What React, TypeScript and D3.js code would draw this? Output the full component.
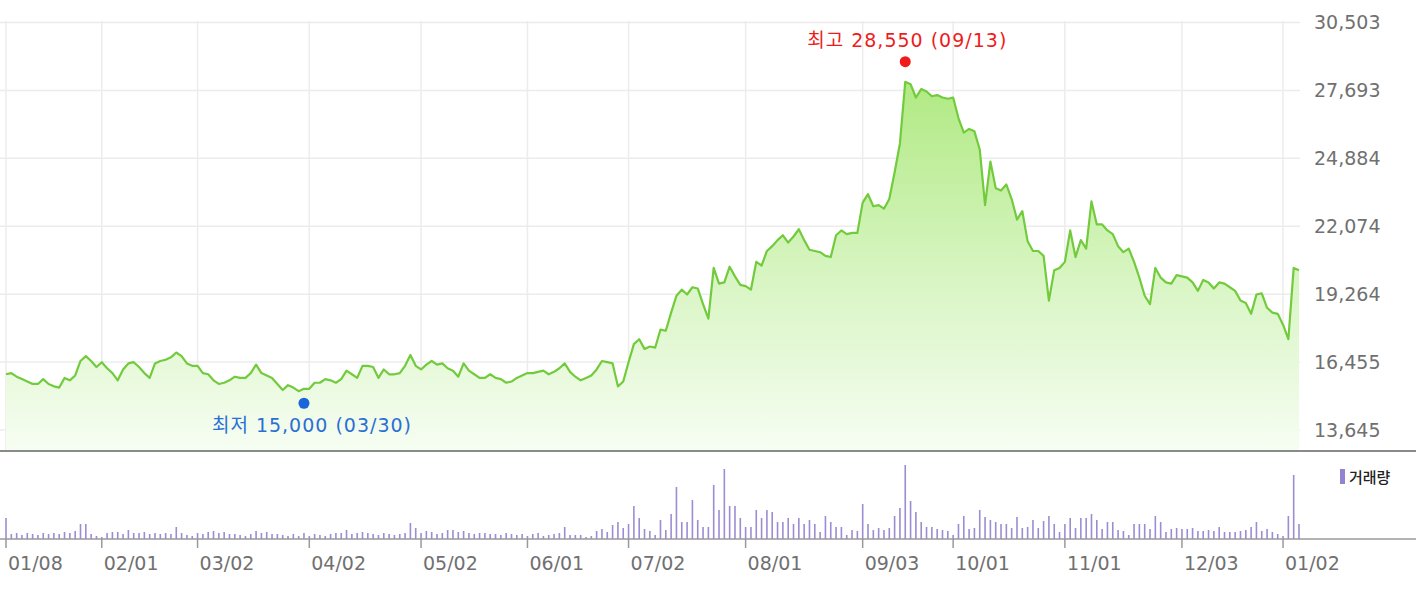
import React, { useEffect, useRef } from 'react';
import * as d3 from 'd3';

// x axis: tick labels and the trading-day index each one sits on
const xTickLabels = ['01/08', '02/01', '03/02', '04/02', '05/02', '06/01', '07/02', '08/01', '09/03', '10/01', '11/01', '12/03', '01/02'];
const xTickIndex = [0, 18, 36, 57, 78, 98, 117, 139, 161, 178, 199, 221, 240];

// y axis tick values (price)
const yTickValues = [13645, 16455, 19264, 22074, 24884, 27693, 30503];

// daily close, 2018-01-08 .. 2019-01-07
const closePrice = [
  15950, 16000, 15850, 15750, 15650, 15550, 15550, 15750, 15550, 15450,
  15400, 15800, 15700, 15900, 16500, 16700, 16500, 16250, 16450, 16200,
  16000, 15700, 16150, 16400, 16450, 16250, 16000, 15800, 16400, 16500,
  16550, 16650, 16850, 16700, 16400, 16300, 16300, 16000, 15950, 15700,
  15550, 15600, 15700, 15850, 15800, 15800, 16000, 16350, 16000, 15900,
  15800, 15550, 15300, 15500, 15400, 15250, 15350, 15350, 15600, 15600,
  15750, 15700, 15600, 15750, 16100, 15950, 15800, 16300, 16300, 16250,
  15800, 16150, 15950, 15950, 16000, 16300, 16750, 16300, 16150, 16350,
  16500, 16350, 16400, 16200, 16100, 15850, 16400, 16100, 15950, 15800,
  15800, 15950, 15800, 15750, 15600, 15650, 15800, 15900, 16000, 16000,
  16050, 16100, 15950, 16050, 16200, 16400, 16050, 15850, 15700, 15800,
  15900, 16150, 16500, 16450, 16400, 15450, 15650, 16450, 17200, 17400,
  17000, 17100, 17050, 17800, 17750, 18500, 19200, 19450, 19250, 19550,
  19500, 18850, 18250, 20350, 19700, 19750, 20400, 20000, 19650, 19600,
  19450, 20600, 20450, 21050, 21250, 21500, 21700, 21400, 21650, 21950,
  21500, 21100, 21050, 21000, 20850, 20800, 21700, 21900, 21750, 21800,
  21800, 23050, 23400, 22900, 22950, 22800, 23200, 24300, 25500, 28050,
  27950, 27400, 27750, 27650, 27450, 27500, 27400, 27350, 27400, 26550,
  25950, 26100, 26000, 25250, 22950, 24750, 23650, 23550, 23800, 23200,
  22350, 22700, 21450, 21050, 21050, 20850, 19000, 20250, 20350, 20600,
  21900, 20800, 21500, 21150, 23100, 22150, 22150, 21900, 21750, 21250,
  21000, 21150, 20600, 19950, 19200, 18850, 20350, 19950, 19750, 19700,
  20050, 20000, 19950, 19750, 19400, 19850, 19750, 19500, 19750, 19700,
  19550, 19400, 19000, 18900, 18450, 19250, 19300, 18700, 18500, 18450,
  18000, 17400, 20350, 20250,
];

// daily volume, thousand shares
const volume = [
  420, 100, 120, 80, 120, 100, 80, 120, 100, 120,
  100, 140, 120, 160, 300, 300, 100, 60, 40, 120,
  140, 140, 100, 180, 120, 120, 140, 100, 120, 100,
  120, 100, 240, 120, 80, 60, 120, 100, 140, 160,
  120, 140, 100, 100, 80, 60, 100, 160, 120, 140,
  100, 100, 80, 60, 100, 60, 120, 60, 100, 80,
  60, 100, 120, 120, 180, 100, 120, 140, 120, 100,
  80, 120, 100, 80, 100, 120, 320, 220, 120, 160,
  140, 100, 120, 180, 180, 140, 160, 120, 100, 120,
  120, 100, 100, 80, 120, 100, 80, 100, 60, 100,
  120, 60, 80, 100, 120, 240, 80, 80, 80, 40,
  60, 160, 200, 140, 280, 340, 220, 300, 660, 420,
  200, 160, 80, 380, 180, 500, 1040, 340, 340, 780,
  380, 240, 240, 1080, 580, 1400, 660, 660, 420, 240,
  240, 580, 420, 580, 540, 340, 340, 420, 300, 420,
  300, 380, 300, 140, 460, 340, 240, 240, 80, 180,
  160, 700, 300, 180, 220, 180, 220, 460, 620, 1480,
  760, 540, 340, 240, 240, 200, 180, 160, 80, 300,
  460, 200, 220, 580, 440, 380, 340, 300, 300, 220,
  440, 220, 240, 380, 220, 360, 460, 300, 140, 300,
  420, 220, 420, 420, 500, 380, 200, 340, 340, 180,
  160, 80, 300, 300, 300, 200, 460, 340, 140, 200,
  220, 200, 200, 220, 160, 160, 180, 160, 240, 140,
  140, 140, 160, 180, 240, 340, 160, 200, 140, 100,
  60, 460, 1280, 300,
];

const high = { index: 169, value: 28550, date: '09/13' };
const low = { index: 56, value: 15000, date: '03/30' };

const App = () => {
  const ref = useRef(null);

  useEffect(() => {
    document.body.style.margin = '0';
    const svg = d3.select(ref.current);
    svg.selectAll('*').remove();

    const width = 1416;
    const plotRight = 1300;
    const priceTop = 21;
    const priceBottom = 450;
    const volBase = 539;
    const font = "'DejaVu Sans', 'Noto Sans CJK KR', sans-serif";

    const x = d3.scaleLinear().domain([0, closePrice.length - 1]).range([6, 1299]);
    const y = d3.scaleLinear().domain([13645, 30503]).range([430, 22.5]);
    const vy = d3.scaleLinear().domain([0, 1600]).range([volBase, 459]);

    const defs = svg.append('defs');
    const grad = defs
      .append('linearGradient')
      .attr('id', 'priceFill')
      .attr('gradientUnits', 'userSpaceOnUse')
      .attr('x1', 0).attr('x2', 0)
      .attr('y1', 70).attr('y2', priceBottom);
    grad.append('stop').attr('offset', 0).attr('stop-color', '#aee97f');
    grad.append('stop').attr('offset', 0.55).attr('stop-color', '#d8f5c3');
    grad.append('stop').attr('offset', 1).attr('stop-color', '#f6fdf2');

    // grid
    svg
      .append('g')
      .selectAll('line')
      .data(yTickValues)
      .enter()
      .append('line')
      .attr('x1', 0)
      .attr('x2', plotRight)
      .attr('y1', (d) => y(d))
      .attr('y2', (d) => y(d))
      .attr('stroke', '#ececec')
      .attr('stroke-width', 1.5);

    svg
      .append('g')
      .selectAll('line')
      .data(xTickIndex)
      .enter()
      .append('line')
      .attr('x1', (d) => x(d))
      .attr('x2', (d) => x(d))
      .attr('y1', priceTop)
      .attr('y2', priceBottom)
      .attr('stroke', '#ececec')
      .attr('stroke-width', 1.5);

    // price area + line
    const area = d3
      .area<number>()
      .x((d, i) => x(i))
      .y0(priceBottom)
      .y1((d) => y(d));
    svg.append('path').datum(closePrice).attr('d', area).attr('fill', 'url(#priceFill)');

    const line = d3
      .line<number>()
      .x((d, i) => x(i))
      .y((d) => y(d));
    svg
      .append('path')
      .datum(closePrice)
      .attr('d', line)
      .attr('fill', 'none')
      .attr('stroke', '#72cb3c')
      .attr('stroke-width', 2.2)
      .attr('stroke-linejoin', 'round');

    // separator between price and volume panes
    svg
      .append('line')
      .attr('x1', 0).attr('x2', width)
      .attr('y1', priceBottom + 1).attr('y2', priceBottom + 1)
      .attr('stroke', '#8a8a8a')
      .attr('stroke-width', 2);

    // y labels
    svg
      .append('g')
      .selectAll('text')
      .data(yTickValues)
      .enter()
      .append('text')
      .attr('x', 1314)
      .attr('y', (d) => y(d))
      .attr('dy', '0.36em')
      .style('font-family', font)
      .style('font-size', '19px')
      .style('fill', '#707070')
      .text((d) => d3.format(',')(d));

    // volume bars
    svg
      .append('g')
      .selectAll('rect')
      .data(volume)
      .enter()
      .append('rect')
      .attr('x', (d, i) => x(i) - 0.8)
      .attr('width', 1.6)
      .attr('y', (d) => vy(d))
      .attr('height', (d) => volBase - vy(d))
      .attr('fill', '#9c8dd3');

    svg
      .append('line')
      .attr('x1', 0).attr('x2', width)
      .attr('y1', volBase).attr('y2', volBase)
      .attr('stroke', '#9a9a9a')
      .attr('stroke-width', 1.5);

    // x ticks + labels
    const xg = svg.append('g');
    xg.selectAll('line')
      .data(xTickIndex)
      .enter()
      .append('line')
      .attr('x1', (d) => x(d))
      .attr('x2', (d) => x(d))
      .attr('y1', volBase)
      .attr('y2', volBase + 9)
      .attr('stroke', '#9a9a9a')
      .attr('stroke-width', 1.5);
    xg.selectAll('text')
      .data(xTickIndex)
      .enter()
      .append('text')
      .attr('x', (d) => x(d) + 2)
      .attr('y', 570)
      .style('font-family', font)
      .style('font-size', '19px')
      .style('fill', '#707070')
      .text((d, i) => xTickLabels[i]);

    // legend
    svg
      .append('rect')
      .attr('x', 1340).attr('y', 469)
      .attr('width', 5).attr('height', 15)
      .attr('fill', '#9484cf');
    svg
      .append('text')
      .attr('x', 1349).attr('y', 483)
      .style('font-family', "'Noto Sans CJK KR', sans-serif")
      .style('font-size', '15px')
      .style('font-weight', 500)
      .style('fill', '#222')
      .text('거래량');

    // high / low markers
    const hx = x(high.index);
    const hy = y(high.value) - 8;
    svg.append('circle').attr('cx', hx).attr('cy', hy).attr('r', 5.5).attr('fill', '#f01b1b');
    svg
      .append('text')
      .attr('x', hx + 2)
      .attr('y', hy - 15)
      .attr('text-anchor', 'middle')
      .style('font-family', font)
      .style('font-size', '19px')
      .style('letter-spacing', '1px')
      .style('fill', '#ee1c1c')
      .text(`최고 ${d3.format(',')(high.value)} (${high.date})`);

    const lx = x(low.index);
    const ly = y(low.value) + 6;
    svg.append('circle').attr('cx', lx).attr('cy', ly).attr('r', 5.5).attr('fill', '#1a66d9');
    svg
      .append('text')
      .attr('x', lx + 8)
      .attr('y', ly + 29)
      .attr('text-anchor', 'middle')
      .style('font-family', font)
      .style('font-size', '19px')
      .style('letter-spacing', '1px')
      .style('fill', '#2a6fd6')
      .text(`최저 ${d3.format(',')(low.value)} (${low.date})`);
  }, []);

  return <svg ref={ref} width={1416} height={598} style={{ display: 'block' }} />;
};

export default App;
